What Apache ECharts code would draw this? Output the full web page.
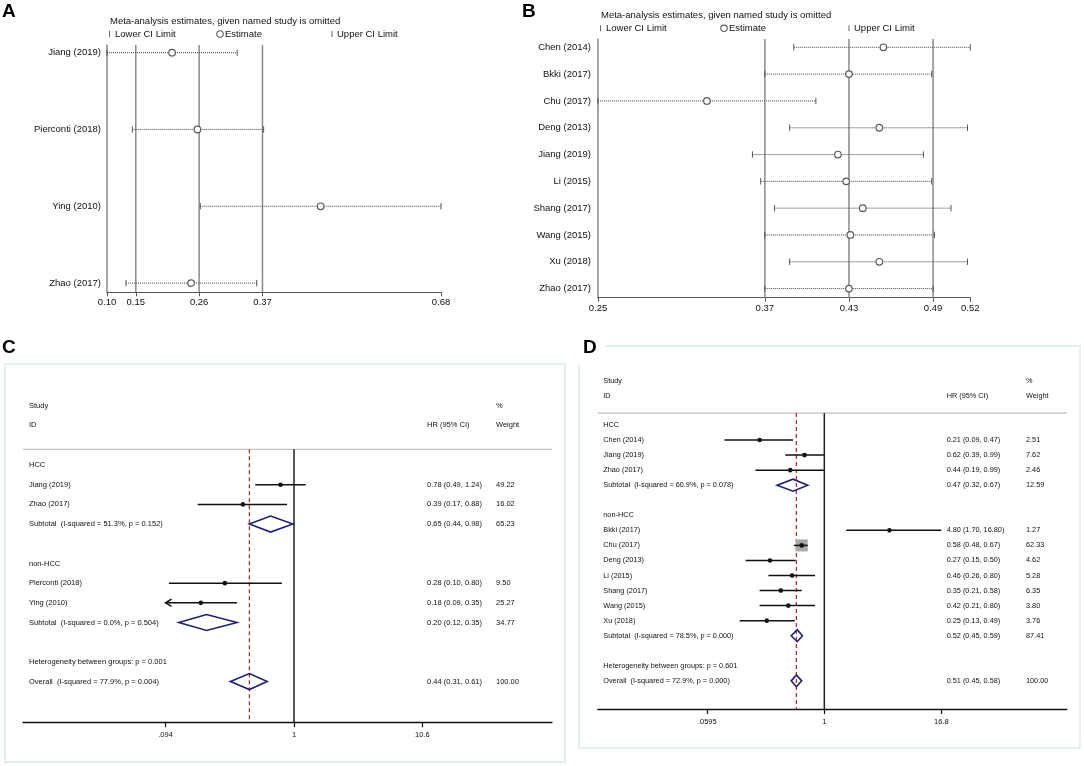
<!DOCTYPE html>
<html><head><meta charset="utf-8">
<script src="https://cdn.jsdelivr.net/npm/echarts@6/dist/echarts.min.js"></script>
<style>html,body{margin:0;padding:0;background:#fff}#c{width:1084px;height:766px}</style>
</head><body><div id="c"></div>
<script>
const FONT = '"Liberation Sans", Arial, Helvetica, sans-serif';

// ---------- Panel A (influence analysis) ----------
const studiesA = ['Jiang (2019)', 'Pierconti (2018)', 'Ying (2010)', 'Zhao (2017)'];
const estA = [0.213, 0.257, 0.471, 0.246];
const lowA = [0.100, 0.144, 0.262, 0.133];
const upA  = [0.326, 0.372, 0.680, 0.360];
const ticksA = [0.10, 0.15, 0.26, 0.37, 0.68];
const tickLabelsA = ['0.10', '0.15', '0.26', '0.37', '0.68'];
const refA = [0.15, 0.26, 0.37];

// ---------- Panel B (influence analysis) ----------
const studiesB = ['Chen (2014)', 'Bkki (2017)', 'Chu (2017)', 'Deng (2013)', 'Jiang (2019)', 'Li (2015)', 'Shang (2017)', 'Wang (2015)', 'Xu (2018)', 'Zhao (2017)'];
const estB = [0.457, 0.432, 0.329, 0.454, 0.424, 0.430, 0.442, 0.433, 0.454, 0.432];
const lowB = [0.392, 0.371, 0.250, 0.389, 0.362, 0.368, 0.378, 0.371, 0.389, 0.371];
const upB  = [0.520, 0.492, 0.408, 0.518, 0.486, 0.492, 0.506, 0.494, 0.518, 0.493];
const ticksB = [0.25, 0.371, 0.432, 0.493, 0.52];
const tickLabelsB = ['0.25', '0.37', '0.43', '0.49', '0.52'];
const refB = [0.371, 0.432, 0.493];

// ---------- Panel C (forest plot) ----------
const labelsC = ['HCC', 'Jiang (2019)', 'Zhao (2017)', 'Subtotal  (I-squared = 51.3%, p = 0.152)', '',
  'non-HCC', 'Pierconti (2018)', 'Ying (2010)', 'Subtotal  (I-squared = 0.0%, p = 0.504)', '',
  'Heterogeneity between groups: p = 0.001', 'Overall  (I-squared = 77.9%, p = 0.004)'];
const kindC   = ['h', 's', 's', 'd', '', 'h', 's', 's', 'd', '', 't', 'd'];
const estC    = [null, 0.78, 0.39, 0.65, null, null, 0.28, 0.18, 0.20, null, null, 0.44];
const lowC    = [null, 0.49, 0.17, 0.44, null, null, 0.10, 0.09, 0.12, null, null, 0.31];
const upC     = [null, 1.24, 0.88, 0.98, null, null, 0.80, 0.35, 0.35, null, null, 0.61];
const weightC = [null, 49.22, 16.02, 65.23, null, null, 9.50, 25.27, 34.77, null, null, 100.00];
const ticksC = [0.094, 1, 10.6];
const tickLabelsC = ['.094', '1', '10.6'];

// ---------- Panel D (forest plot) ----------
const labelsD = ['HCC', 'Chen (2014)', 'Jiang (2019)', 'Zhao (2017)', 'Subtotal  (I-squared = 60.9%, p = 0.078)', '',
  'non-HCC', 'Bkki (2017)', 'Chu (2017)', 'Deng (2013)', 'Li (2015)', 'Shang (2017)', 'Wang (2015)', 'Xu (2018)',
  'Subtotal  (I-squared = 78.5%, p = 0.000)', '', 'Heterogeneity between groups: p = 0.601', 'Overall  (I-squared = 72.9%, p = 0.000)'];
const kindD   = ['h', 's', 's', 's', 'd', '', 'h', 's', 's', 's', 's', 's', 's', 's', 'd', '', 't', 'd'];
const estD    = [null, 0.21, 0.62, 0.44, 0.47, null, null, 4.80, 0.58, 0.27, 0.46, 0.35, 0.42, 0.25, 0.52, null, null, 0.51];
const lowD    = [null, 0.09, 0.39, 0.19, 0.32, null, null, 1.70, 0.48, 0.15, 0.26, 0.21, 0.21, 0.13, 0.45, null, null, 0.45];
const upD     = [null, 0.47, 0.99, 0.99, 0.67, null, null, 16.80, 0.67, 0.50, 0.80, 0.58, 0.80, 0.49, 0.59, null, null, 0.58];
const weightD = [null, 2.51, 7.62, 2.46, 12.59, null, null, 1.27, 62.33, 4.62, 5.28, 6.35, 3.80, 3.76, 87.41, null, null, 100.00];
const ticksD = [0.0595, 1, 16.8];
const tickLabelsD = ['.0595', '1', '16.8'];

// ---------- layout ----------
const Y_A = [0.9, 4.12], Y_B = [0.69, 10.34], Y_C = [-0.8, 13.07], Y_D = [-0.797, 18.87];
const X_C = [-2.166, 2.062], X_D = [-2.373, 2.538];
const TXT = '#111';

const lg = Math.log10;
function pickLabel(ticks, labels, v, log) {
  for (let j = 0; j < ticks.length; j++) {
    const t = log ? lg(ticks[j]) : ticks[j];
    if (Math.abs(t - v) < 1e-6) return labels[j];
  }
  return '';
}

function vline(gi, x, y0, y1, color, width, type) {
  return { type: 'line', xAxisIndex: gi, yAxisIndex: gi, data: [[x, y0], [x, y1]], symbol: 'none',
    silent: true, z: 1, lineStyle: { color: color, width: width, type: type || 'solid' } };
}
function hline(gi, y, x0, x1, color, width) {
  return { type: 'line', xAxisIndex: gi, yAxisIndex: gi, data: [[x0, y], [x1, y]], symbol: 'none',
    silent: true, z: 1, lineStyle: { color: color, width: width } };
}

function infSeries(gi, est, lo, hi) {
  return {
    type: 'custom', xAxisIndex: gi, yAxisIndex: gi, clip: false, silent: true, z: 3,
    data: est.map((e, k) => [e, k + 1]),
    renderItem(params, api) {
      const k = params.dataIndex;
      const pL = api.coord([lo[k], k + 1]), pH = api.coord([hi[k], k + 1]), pE = api.coord([est[k], k + 1]);
      const y = pE[1];
      const st = { stroke: '#555', lineWidth: 1 };
      return { type: 'group', children: [
        { type: 'line', shape: { x1: pL[0], y1: y, x2: pH[0], y2: y }, style: { stroke: '#555', lineWidth: 1.1, lineDash: [1, 1] } },
        { type: 'line', shape: { x1: pL[0], y1: y - 3.2, x2: pL[0], y2: y + 3.2 }, style: st },
        { type: 'line', shape: { x1: pH[0], y1: y - 3.2, x2: pH[0], y2: y + 3.2 }, style: st },
        { type: 'circle', shape: { cx: pE[0], cy: y, r: 3.3 }, style: { fill: '#fff', stroke: '#5a5a5a', lineWidth: 1.2 } }
      ] };
    }
  };
}

function forestSeries(gi, kinds, est, lo, hi, w, clipLo, clipHi, halfH, boxMax, maxW) {
  const idx = kinds.map((k, i) => (k === 's' || k === 'd') ? i : -1).filter(i => i >= 0);
  return {
    type: 'custom', xAxisIndex: gi, yAxisIndex: gi, clip: false, silent: true, z: 3,
    data: idx.map(i => [lg(est[i]), i]),
    renderItem(params, api) {
      const i = idx[params.dataIndex];
      const P = v => api.coord([lg(v), i]);
      const pE = P(est[i]); const y = pE[1];
      const ch = [];
      if (kinds[i] === 'd') {
        const pl = P(lo[i]), ph = P(hi[i]);
        ch.push({ type: 'polygon', shape: { points: [[pl[0], y], [pE[0], y - halfH], [ph[0], y], [pE[0], y + halfH]] },
          style: { fill: 'none', stroke: '#1f1f7a', lineWidth: 1.6 } });
      } else {
        const pl = P(Math.max(lo[i], clipLo)), ph = P(Math.min(hi[i], clipHi));
        if (boxMax > 0) {
          const s = boxMax * Math.sqrt(w[i] / maxW);
          ch.push({ type: 'rect', shape: { x: pE[0] - s / 2, y: y - s / 2, width: s, height: s }, style: { fill: '#a9a9a9' } });
        }
        ch.push({ type: 'line', shape: { x1: pl[0], y1: y, x2: ph[0], y2: y }, style: { stroke: '#111', lineWidth: 1.5 } });
        if (lo[i] < clipLo) ch.push({ type: 'polyline', shape: { points: [[pl[0] + 6, y - 3.6], [pl[0], y], [pl[0] + 6, y + 3.6]] }, style: { fill: 'none', stroke: '#111', lineWidth: 1.5 } });
        if (hi[i] > clipHi) ch.push({ type: 'polyline', shape: { points: [[ph[0] - 6, y - 3.6], [ph[0], y], [ph[0] - 6, y + 3.6]] }, style: { fill: 'none', stroke: '#111', lineWidth: 1.5 } });
        ch.push({ type: 'circle', shape: { cx: pE[0], cy: y, r: 2.3 }, style: { fill: '#111' } });
      }
      return { type: 'group', children: ch };
    }
  };
}

function textSeries(gi, labels, kinds, est, lo, hi, w, xLab, xHR, xW, fs) {
  const idx = labels.map((l, i) => l ? i : -1).filter(i => i >= 0);
  const txt = (x, y, s) => ({ type: 'text', x: x, y: y, style: { text: s, fill: TXT, fontSize: fs, fontFamily: FONT, align: 'left', verticalAlign: 'middle' } });
  return {
    type: 'custom', xAxisIndex: gi, yAxisIndex: gi, clip: false, silent: true, z: 4,
    data: idx.map(i => [0, i]),
    renderItem(params, api) {
      const i = idx[params.dataIndex];
      const y = api.coord([0, i])[1];
      const ch = [txt(xLab, y, labels[i])];
      if (kinds[i] === 's' || kinds[i] === 'd') {
        ch.push(txt(xHR, y, est[i].toFixed(2) + ' (' + lo[i].toFixed(2) + ', ' + hi[i].toFixed(2) + ')'));
        ch.push(txt(xW, y, w[i].toFixed(2)));
      }
      return { type: 'group', children: ch };
    }
  };
}

function infXAxis(gi, min, max, ticks, labels, margin) {
  return { gridIndex: gi, type: 'value', min: min, max: max,
    axisLine: { show: true, onZero: false, lineStyle: { color: '#555', width: 1.2 } },
    axisTick: { show: true, customValues: ticks, length: 4, lineStyle: { color: '#555' } },
    axisLabel: { customValues: ticks, formatter: v => pickLabel(ticks, labels, v, false), fontSize: 9.5, color: TXT, fontFamily: FONT, margin: margin },
    splitLine: { show: false } };
}
function infYAxis(gi, yr, names, margin) {
  const vals = names.map((n, k) => k + 1);
  return { gridIndex: gi, type: 'value', inverse: true, min: yr[0], max: yr[1],
    axisLine: { show: true, onZero: false, lineStyle: { color: '#8a8a8a', width: 1.5 } },
    axisTick: { show: false }, splitLine: { show: false },
    axisLabel: { customValues: vals, formatter: v => names[Math.round(v) - 1], fontSize: 9.5, color: TXT, fontFamily: FONT, margin: margin } };
}
function forestXAxis(gi, xr, ticks, labels) {
  const tv = ticks.map(lg);
  return { gridIndex: gi, type: 'value', min: xr[0], max: xr[1],
    axisLine: { show: true, onZero: false, lineStyle: { color: '#111', width: 1.3 } },
    axisTick: { show: true, customValues: tv, length: 5, lineStyle: { color: '#111', width: 1.2 } },
    axisLabel: { customValues: tv, formatter: v => pickLabel(ticks, labels, v, true), fontSize: 7.5, color: TXT, fontFamily: FONT, margin: 9 },
    splitLine: { show: false } };
}
function hiddenY(gi, yr) {
  return { gridIndex: gi, type: 'value', inverse: true, min: yr[0], max: yr[1], show: false,
    axisLine: { onZero: false }, splitLine: { show: false } };
}

function legendGraphics(x0, yT, yL, xCirc, xUp) {
  const t = (x, y, s) => ({ type: 'text', x: x, y: y, style: { text: s, fill: TXT, fontSize: 9.5, fontFamily: FONT, verticalAlign: 'middle' } });
  return [
    t(x0, yT, 'Meta-analysis estimates, given named study is omitted'),
    { type: 'line', shape: { x1: x0 - 0.5, y1: yL - 3, x2: x0 - 0.5, y2: yL + 3 }, style: { stroke: '#666', lineWidth: 1 } },
    t(x0 + 5, yL, 'Lower CI Limit'),
    { type: 'circle', shape: { cx: xCirc, cy: yL, r: 3.2 }, style: { fill: '#fff', stroke: '#5a5a5a', lineWidth: 1.1 } },
    t(xCirc + 5, yL, 'Estimate'),
    { type: 'line', shape: { x1: xUp, y1: yL - 3, x2: xUp, y2: yL + 3 }, style: { stroke: '#666', lineWidth: 1 } },
    t(xUp + 5, yL, 'Upper CI Limit')
  ];
}
function headerGraphics(xS, yTop, yBot, xHR, xW, fs) {
  const t = (x, y, s) => ({ type: 'text', x: x, y: y, style: { text: s, fill: TXT, fontSize: fs, fontFamily: FONT, verticalAlign: 'middle' } });
  return [t(xS, yTop, 'Study'), t(xS, yBot, 'ID'), t(xHR, yBot, 'HR (95% CI)'), t(xW, yTop, '%'), t(xW, yBot, 'Weight')];
}
const letter = (x, y, s) => ({ type: 'text', x: x, y: y, z: 10, style: { text: s, fill: '#000', fontSize: 19, fontWeight: 'bold', fontFamily: FONT, verticalAlign: 'middle' } });

const overallC = estC[estC.length - 1];
const overallD = estD[estD.length - 1];

const option = {
  animation: false,
  backgroundColor: '#fff',
  grid: [
    { left: 107, top: 45, width: 334, height: 247.3, containLabel: false, outerBoundsMode: 'none' },
    { left: 598, top: 39, width: 372.3, height: 258.7, containLabel: false, outerBoundsMode: 'none' },
    { left: 23, top: 449.3, width: 529, height: 273, containLabel: false, outerBoundsMode: 'none' },
    { left: 597.7, top: 413, width: 469, height: 296, containLabel: false, outerBoundsMode: 'none' }
  ],
  xAxis: [
    infXAxis(0, 0.10, 0.68, ticksA, tickLabelsA, 5),
    infXAxis(1, 0.25, 0.52, ticksB, tickLabelsB, 6),
    forestXAxis(2, X_C, ticksC, tickLabelsC),
    forestXAxis(3, X_D, ticksD, tickLabelsD)
  ],
  yAxis: [
    infYAxis(0, Y_A, studiesA, 6),
    infYAxis(1, Y_B, studiesB, 7),
    hiddenY(2, Y_C),
    hiddenY(3, Y_D)
  ],
  graphic: [
    { type: 'rect', shape: { x: 5, y: 364, width: 560, height: 398 }, style: { fill: 'none', stroke: '#e4eef0', lineWidth: 2 } },
    { type: 'rect', shape: { x: 579, y: 346, width: 501, height: 402 }, style: { fill: 'none', stroke: '#e4eef0', lineWidth: 2 } },
    { type: 'rect', z: 9, shape: { x: 576, y: 334, width: 29, height: 31 }, style: { fill: '#fff' } },
    letter(2, 12, 'A'), letter(522, 12, 'B'), letter(2, 348, 'C'), letter(583, 348, 'D'),
    ...legendGraphics(110, 21.5, 34, 220, 332),
    ...legendGraphics(601, 15, 28.3, 724, 849),
    ...headerGraphics(29, 405.7, 425, 427, 496, 7.5),
    ...headerGraphics(603.3, 380.7, 395.7, 946.7, 1026, 7.3)
  ],
  series: [
    ...refA.map(v => vline(0, v, Y_A[0], Y_A[1], '#8a8a8a', 1.5)),
    infSeries(0, estA, lowA, upA),
    ...refB.map(v => vline(1, v, Y_B[0], Y_B[1], '#8a8a8a', 1.5)),
    infSeries(1, estB, lowB, upB),

    hline(2, Y_C[0], X_C[0], X_C[1], '#c4c4c4', 1.5),
    vline(2, 0, Y_C[0], Y_C[1], '#222', 1.5),
    vline(2, lg(overallC), Y_C[0], Y_C[1], '#a8323a', 1.3, [4, 3]),
    forestSeries(2, kindC, estC, lowC, upC, weightC, ticksC[0], ticksC[2], 8, 0, 100),
    textSeries(2, labelsC, kindC, estC, lowC, upC, weightC, 29, 427, 496, 7.5),

    hline(3, Y_D[0], X_D[0], X_D[1], '#c4c4c4', 1.5),
    vline(3, 0, Y_D[0], Y_D[1], '#222', 1.5),
    vline(3, lg(overallD), Y_D[0], Y_D[1], '#a8323a', 1.3, [4, 3]),
    forestSeries(3, kindD, estD, lowD, upD, weightD, ticksD[0], ticksD[2], 6, 12, 62.33),
    textSeries(3, labelsD, kindD, estD, lowD, upD, weightD, 603.3, 946.7, 1026, 7.3)
  ]
};

const chart = echarts.init(document.getElementById('c'));
chart.setOption(option);
</script>
</body></html>
